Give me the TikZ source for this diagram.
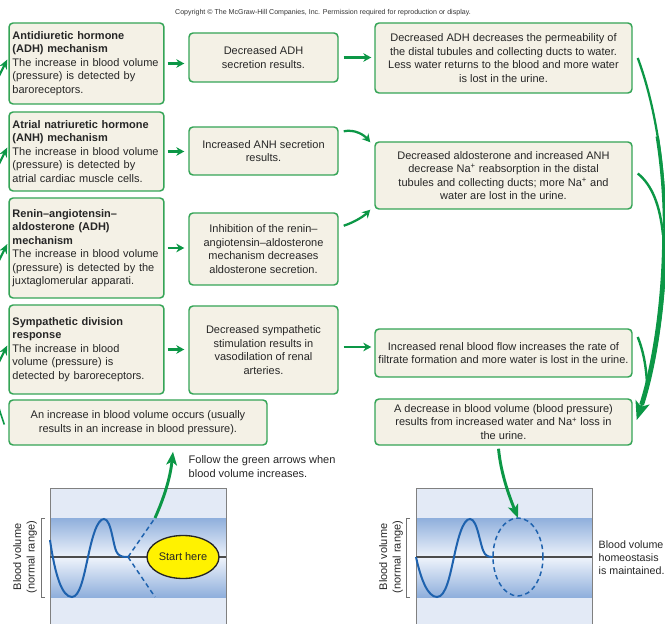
\documentclass[tikz,border=0pt]{standalone}
\usepackage{fontspec}
\setmainfont{Liberation Sans}
\usetikzlibrary{arrows.meta,shapes.geometric}
\definecolor{boxfill}{HTML}{F4F1E6}
\definecolor{boxline}{HTML}{34A456}
\definecolor{flow}{HTML}{0C9746}
\definecolor{bgblue}{HTML}{E3EAF6}
\definecolor{bandblue}{HTML}{8FAFDC}
\definecolor{bandlight}{HTML}{EEF3FB}
\definecolor{wave}{HTML}{1E62AE}
\definecolor{sun}{HTML}{FFF200}
\begin{document}
\begin{tikzpicture}[x=0.75pt,y=-0.75pt,
  txt/.style={font=\fontsize{8.25pt}{10.1pt}\selectfont, text=black!85},
  card/.style={txt, draw=boxline, fill=boxfill, line width=1.1pt, rounded corners=3pt, inner sep=0pt},
  lcard/.style={card, align=left, text width=111pt, inner xsep=2.6pt},
  ccard/.style={card, align=center},
  sarrow/.style={draw=flow, line width=1.7pt, -{Stealth[length=6pt,width=6.5pt]}},
  edgearrow/.style={draw=flow, line width=1.6pt, -{Stealth[length=7pt,width=6pt]}},
  bigflow/.style={draw=flow, line width=2.2pt, -{Stealth[length=10pt,width=8pt,inset=2.5pt]}},
  mainflow/.style={draw=flow, line width=1.7pt, -{Stealth[length=14pt,width=11pt,inset=3.5pt]}},
  branch/.style={draw=flow, line width=1.8pt},
  wavestyle/.style={draw=wave, line width=1.5pt},
  dashstyle/.style={draw=wave, line width=1.1pt, dash pattern=on 3.5pt off 2.5pt},
  bracket/.style={draw=black!55, line width=0.6pt},
  frame/.style={draw=black!50, line width=0.6pt},
  midline/.style={draw=black!70, line width=0.8pt}
]
\useasboundingbox (0,0) rectangle (665,624);

% copyright
\node[font=\fontsize{5.3pt}{6pt}\selectfont, text=black!80] (copy) at (323,13)
  {Copyright © The McGraw-Hill Companies, Inc. Permission required for reproduction or display.};

% left column
\node[lcard, minimum height=60.75pt] (L1) at (86.5,63.5)
  {\textbf{Antidiuretic hormone}\\\textbf{(ADH) mechanism}\\The increase in blood volume\\(pressure) is detected by\\baroreceptors.};
\node[lcard, minimum height=59.25pt] (L2) at (86.5,151.5)
  {\textbf{Atrial natriuretic hormone}\\\textbf{(ANH) mechanism}\\The increase in blood volume\\(pressure) is detected by\\atrial cardiac muscle cells.};
\node[lcard, minimum height=75pt] (L3) at (86.5,248)
  {\textbf{Renin–angiotensin–}\\\textbf{aldosterone (ADH)}\\\textbf{mechanism}\\The increase in blood volume\\(pressure) is detected by the\\juxtaglomerular apparati.};
\node[lcard, minimum height=66.75pt] (L4) at (86.5,349.5)
  {\textbf{Sympathetic division}\\\textbf{response}\\The increase in blood\\volume (pressure) is\\detected by baroreceptors.};

% middle column
\node[ccard, minimum width=111.75pt, minimum height=36.75pt] (M1) at (263.5,57.5)
  {Decreased ADH\\secretion results.};
\node[ccard, minimum width=111.75pt, minimum height=36pt] (M2) at (263.5,151)
  {Increased ANH secretion\\results.};
\node[ccard, minimum width=111.75pt, minimum height=54pt] (M3) at (263.5,249)
  {Inhibition of the renin–\\angiotensin–aldosterone\\mechanism decreases\\aldosterone secretion.};
\node[ccard, minimum width=111.75pt, minimum height=66pt] (M4) at (263.5,350)
  {Decreased sympathetic\\stimulation results in\\vasodilation of renal\\arteries.};

% right column
\node[ccard, minimum width=192.75pt, minimum height=52.5pt] (R1) at (503.5,58)
  {Decreased ADH decreases the permeability of\\the distal tubules and collecting ducts to water.\\Less water returns to the blood and more water\\is lost in the urine.};
\node[ccard, minimum width=192.75pt, minimum height=50.25pt] (R2) at (503.5,175.5)
  {Decreased aldosterone and increased ANH\\decrease Na\textsuperscript{+} reabsorption in the distal\\tubules and collecting ducts; more Na\textsuperscript{+} and\\water are lost in the urine.};
\node[ccard, minimum width=192.75pt, minimum height=36pt] (R3) at (503.5,353)
  {Increased renal blood flow increases the rate of\\filtrate formation and more water is lost in the urine.};
\node[ccard, minimum width=192.75pt, minimum height=34.5pt] (R4) at (503.5,422)
  {A decrease in blood volume (blood pressure)\\results from increased water and Na\textsuperscript{+} loss in\\the urine.};

% bottom-left box
\node[ccard, minimum width=193.5pt, minimum height=33.75pt] (B) at (138,422.5)
  {An increase in blood volume occurs (usually\\results in an increase in blood pressure).};

% small arrows left -> middle
\foreach \a/\b in {L1/M1,L2/M2,L3/M3,L4/M4}
  \draw[sarrow] ([shift={(3,0)}]\a.east) -- ([shift={(-4,0)}]\a.east -| \b.west);
% middle -> right
\draw[sarrow] ([shift={(5,0)}]M1.east) -- ([shift={(-3,0)}]M1.east -| R1.west);
\draw[sarrow] ([shift={(5,5)}]M2.north east) .. controls (355,129) and (364,135) .. ([shift={(-4,1)}]R2.north west);
\draw[sarrow] ([shift={(5,-60)}]M3.south east) .. controls (355,222) and (364,216) .. ([shift={(-4,0)}]R2.south west);
\draw[sarrow] ([shift={(5,-3)}]M4.east) -- ([shift={(-3,-3)}]M4.east -| R3.west);

% left edge arrows (flow coming from off the picture)
\foreach \n in {L1,L2,L3,L4}
  \draw[edgearrow] ([shift={(-14,22)}]\n.west) -- ([shift={(-1,-4)}]\n.west);
\coordinate (offB) at (-2,404);
\draw[flow, line width=1.2pt] ([shift={(-4,2)}]B.west) .. controls +(-2,-6) and +(1,5) .. (offB);

% big right-hand flow (tapered by overlaying thicker strokes on its lower part)
\coordinate (mainQ) at (657.23,136.5);
\coordinate (mainS) at (664.6,228.5);
\draw[mainflow] ([shift={(5,0)}]R1.east) .. controls (672,150) and (676,300) .. ([shift={(4,-2)}]R4.east);
\draw[flow, line width=2.5pt] (mainQ) .. controls (661.9,165.4) and (664.425,196.5) .. (mainS);
\draw[flow, line width=3.6pt, shorten >=12pt] (mainS) .. controls (665,292.5) and (656,360) .. ([shift={(4,-2)}]R4.east);
\draw[branch] ([shift={(5,-2)}]R2.east) .. controls (652,185) and (660,205) .. (663,235);
\draw[branch] ([shift={(5,-16)}]R3.east) .. controls (643,350) and (646,365) .. (647,383);

% ===== left graph =====
\fill[bgblue] (50,488) rectangle (226,630);
\shade[top color=bandblue, bottom color=bandblue, middle color=bandlight] (50,518) rectangle (226,597);
\draw[frame] (50,630) -- (50,488) -- (226,488) -- (226,630);
\draw[midline] (50,557) -- (226,557);
\draw[bracket] (45,518) -- (41,518) -- (41,597) -- (45,597);
\node[txt, rotate=90, align=center] (ylabL) at (25,557) {Blood volume\\(normal range)};
\draw[wavestyle] (50,540) .. controls (55,575) and (62,597) .. (72,597)
  .. controls (80,597) and (84,575) .. (88,557)
  .. controls (92,538) and (97,519) .. (104,519)
  .. controls (112,519) and (113,550) .. (118,554)
  .. controls (121,557) and (124,557) .. (128,557);
\coordinate (crossL) at (128,557);
\coordinate (upstart) at (155,518);
\coordinate (downend) at (155,597);
\draw[dashstyle] (crossL) -- (upstart);
\draw[dashstyle] (crossL) -- (downend);
\node[ellipse, draw=black!85, fill=sun, line width=1pt, minimum width=54pt, minimum height=32.25pt, inner sep=0pt, txt] (start) at (183,557) {Start here};
\draw[bigflow] (upstart) .. controls (163,500) and (170,480) .. ([shift={(35,6)}]B.south);
\node[txt, anchor=west, align=left] (follow) at (184,466.5) {Follow the green arrows when\\blood volume increases.};

% ===== right graph =====
\fill[bgblue] (416,488) rectangle (592,630);
\shade[top color=bandblue, bottom color=bandblue, middle color=bandlight] (416,518) rectangle (592,597);
\draw[frame] (416,630) -- (416,488) -- (592,488) -- (592,630);
\draw[midline] (416,557) -- (592,557);
\draw[bracket] (410,518) -- (406,518) -- (406,597) -- (410,597);
\node[txt, rotate=90, align=center] (ylabR) at (391,557) {Blood volume\\(normal range)};
\draw[wavestyle] (416,557) .. controls (421,580) and (428,597) .. (437,597)
  .. controls (446,597) and (450,575) .. (454,557)
  .. controls (458,538) and (463,519) .. (470,519)
  .. controls (478,519) and (480,548) .. (485,554)
  .. controls (488,557) and (490,557) .. (493,557);
\coordinate (ring) at (518,557);
\coordinate (ringtop) at (518,518);
\draw[dashstyle] (ring) ellipse [x radius=18.75pt, y radius=29.25pt];
\draw[bigflow] ([shift={(-5,3)}]R4.south) .. controls (501,475) and (510,498) .. (ringtop);
\node[txt, anchor=west, align=left, font=\fontsize{8pt}{9.75pt}\selectfont] (homeo) at (594,557.5) {Blood volume\\homeostasis\\is maintained.};
\end{tikzpicture}
\end{document}
